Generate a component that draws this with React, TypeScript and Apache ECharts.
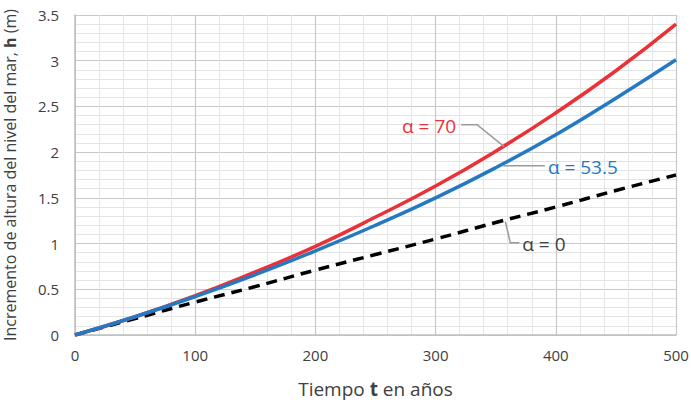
import React, { useEffect, useRef } from "react";
import * as echarts from "echarts";

const years = [0, 50, 100, 150, 200, 250, 300, 350, 400, 450, 500];
const alpha70 = [0, 0.2, 0.43, 0.69, 0.97, 1.29, 1.63, 2.01, 2.43, 2.89, 3.4];
const alpha535 = [0, 0.2, 0.42, 0.66, 0.92, 1.2, 1.5, 1.83, 2.19, 2.59, 3.01];
const alpha0 = [0, 0.18, 0.36, 0.53, 0.71, 0.88, 1.05, 1.23, 1.4, 1.58, 1.75];

const RED = "#EC3136";
const BLUE = "#2479C2";
const FONT = "'Open Sans', 'Liberation Sans', sans-serif";

export default function App() {
  const ref = useRef<HTMLDivElement>(null);
  useEffect(() => {
    const chart = echarts.init(ref.current!, null, { renderer: "svg" });
    const pts = (arr: number[]) => years.map((x, i) => [x, arr[i]]);
    chart.setOption({
      animation: false,
      backgroundColor: "#fff",
      grid: { left: 75, right: 15, top: 15, bottom: 70, outerBoundsMode: "none", containLabel: false },
      xAxis: {
        type: "value",
        min: 0,
        max: 500,
        interval: 100,
        name: "Tiempo {b|t} en años",
        nameLocation: "middle",
        nameGap: 44,
        nameTextStyle: {
          fontFamily: FONT,
          fontSize: 19,
          color: "#404040",
          rich: { b: { fontWeight: "bold", fontSize: 19, fontFamily: FONT, color: "#404040" } },
        },
        axisLine: { show: true, lineStyle: { color: "#BFBFBF", width: 1.5 } },
        axisTick: { show: false },
        axisLabel: { fontFamily: FONT, fontSize: 15, color: "#404040", margin: 12 },
        splitLine: { show: true, lineStyle: { color: "#C8C8C8", width: 1.2 } },
        minorTick: { show: false, splitNumber: 5 },
        minorSplitLine: { show: true, lineStyle: { color: "#E4E4E4", width: 1 } },
      },
      yAxis: {
        type: "value",
        min: 0,
        max: 3.5,
        interval: 0.5,
        name: "Incremento de altura del nivel del mar, {b|h} (m)",
        nameLocation: "middle",
        nameGap: 57,
        nameTextStyle: {
          fontFamily: FONT,
          fontSize: 16,
          color: "#404040",
          rich: { b: { fontWeight: "bold", fontSize: 16, fontFamily: FONT, color: "#404040" } },
        },
        axisLine: { show: true, lineStyle: { color: "#BFBFBF", width: 1.5 } },
        axisTick: { show: false },
        axisLabel: { fontFamily: FONT, fontSize: 15, color: "#404040", margin: 16 },
        splitLine: { show: true, lineStyle: { color: "#C8C8C8", width: 1.2 } },
        minorTick: { show: false, splitNumber: 5 },
        minorSplitLine: { show: true, lineStyle: { color: "#E4E4E4", width: 1 } },
      },
      series: [
        {
          type: "line",
          data: pts(alpha0),
          smooth: true,
          symbol: "none",
          lineStyle: { color: "#000", width: 3.5, type: [11, 7] },
          z: 3,
        },
        {
          type: "line",
          data: pts(alpha70),
          smooth: true,
          symbol: "none",
          lineStyle: { color: RED, width: 3.5 },
          z: 4,
        },
        {
          type: "line",
          data: pts(alpha535),
          smooth: true,
          symbol: "none",
          lineStyle: { color: BLUE, width: 3.5 },
          z: 5,
        },
      ],
    });

    const p = (x: number, y: number) => chart.convertToPixel({ gridIndex: 0 }, [x, y]) as number[];
    const a70 = p(357, 2.06);
    const a53 = p(356, 1.85);
    const a0 = p(358, 1.24);
    const lead = { stroke: "#9A9A9A", lineWidth: 1.5, fill: "none" };
    const txt = (x: number, y: number, text: string, color: string, align: string) => ({
      type: "text",
      x,
      y,
      z: 10,
      style: {
        text,
        fill: color,
        font: `normal 19px ${FONT}`,
        textAlign: align,
        textVerticalAlign: "middle",
      },
    });
    chart.setOption({
      graphic: [
        {
          type: "polyline",
          z: 9,
          shape: { points: [[a70[0] - 43, a70[1] - 22], [a70[0] - 27, a70[1] - 22], a70] },
          style: lead,
        },
        txt(a70[0] - 48, a70[1] - 21, "α = 70", RED, "right"),
        {
          type: "polyline",
          z: 9,
          shape: { points: [a53, [a53[0] + 42, a53[1]]] },
          style: lead,
        },
        txt(a53[0] + 45, a53[1] + 1, "α = 53.5", BLUE, "left"),
        {
          type: "polyline",
          z: 9,
          shape: { points: [a0, [a0[0] + 5, a0[1] + 21], [a0[0] + 14, a0[1] + 21]] },
          style: lead,
        },
        txt(a0[0] + 17, a0[1] + 22, "α = 0", "#404040", "left"),
      ],
    });
    return () => chart.dispose();
  }, []);
  return <div ref={ref} style={{ width: 691, height: 405, position: "absolute", left: 0, top: 0 }} />;
}
